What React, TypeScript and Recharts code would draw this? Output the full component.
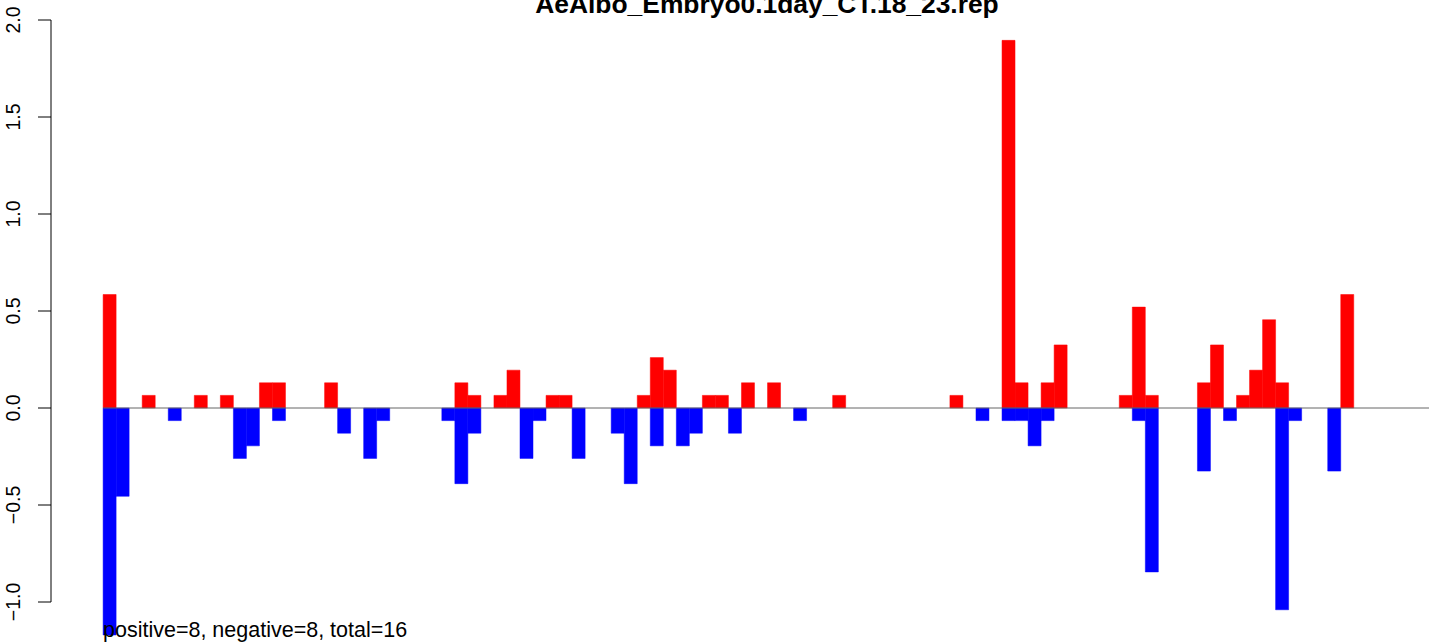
import React from 'react';
import { ComposedChart, Bar, XAxis, YAxis, ReferenceLine } from 'recharts';

const titleText = 'AeAlbo_Embryo0.1day_CT.18_23.rep';
const footerText = 'positive=8, negative=8, total=16';

const slotCount = 100;

const positiveSlots = [0, 3, 7, 9, 12, 13, 17, 27, 28, 30, 31, 34, 35, 41, 42, 43, 46, 47, 49, 51, 56, 65, 69, 70, 72, 73, 78, 79, 80, 84, 85, 87, 88, 89, 90, 95];
const positiveValues = [0.585, 0.065, 0.065, 0.065, 0.13, 0.13, 0.13, 0.13, 0.065, 0.065, 0.195, 0.065, 0.065, 0.065, 0.26, 0.195, 0.065, 0.065, 0.13, 0.13, 0.065, 0.065, 1.895, 0.13, 0.13, 0.325, 0.065, 0.52, 0.065, 0.13, 0.325, 0.065, 0.195, 0.455, 0.13, 0.585];

const negativeSlots = [0, 1, 5, 10, 11, 13, 18, 20, 21, 26, 27, 28, 32, 33, 36, 39, 40, 42, 44, 45, 48, 53, 67, 69, 70, 71, 72, 79, 80, 84, 86, 90, 91, 94];
const negativeValues = [-1.17, -0.455, -0.065, -0.26, -0.195, -0.065, -0.13, -0.26, -0.065, -0.065, -0.39, -0.13, -0.26, -0.065, -0.26, -0.13, -0.39, -0.195, -0.195, -0.13, -0.13, -0.065, -0.065, -0.065, -0.065, -0.195, -0.065, -0.065, -0.845, -0.325, -0.065, -1.04, -0.065, -0.325];

const yTicks = [-1, -0.5, 0, 0.5, 1, 1.5, 2];
const yTickLabels = ['\u22121.0', '\u22120.5', '0.0', '0.5', '1.0', '1.5', '2.0'];

const data = Array.from({ length: slotCount }, (_, i) => {
  const pi = positiveSlots.indexOf(i);
  const ni = negativeSlots.indexOf(i);
  return {
    pos: i + 0.5,
    up: pi >= 0 ? positiveValues[pi] : null,
    down: ni >= 0 ? negativeValues[ni] : null,
  };
});

const FONT = '"Liberation Sans", Arial, Helvetica, sans-serif';

const YTick = (props: any) => {
  const { x, y, payload } = props;
  const idx = yTicks.indexOf(payload.value);
  const bx = x - 16.5;
  return (
    <text
      x={bx}
      y={y}
      transform={`rotate(-90, ${bx}, ${y})`}
      textAnchor="middle"
      fontSize={19.5}
      fontFamily={FONT}
      fill="#000"
    >
      {idx >= 0 ? yTickLabels[idx] : ''}
    </text>
  );
};

export default function App() {
  return (
    <div style={{ position: 'absolute', left: 0, top: 0, width: 1429, height: 643, overflow: 'hidden', background: '#fff' }}>
      <ComposedChart
        width={1458}
        height={670}
        data={data}
        margin={{ top: 0.6, right: 0, bottom: 9.8, left: 0 }}
        barCategoryGap={0}
        barGap={0}
        stackOffset="sign"
      >
        <XAxis dataKey="pos" type="number" domain={[-4, 104]} hide allowDataOverflow />
        <YAxis
          type="number"
          domain={[-1.3, 2.1]}
          ticks={yTicks}
          width={51}
          tickSize={13}
          axisLine={false}
          tickLine={{ stroke: '#000', strokeWidth: 1 }}
          tick={<YTick />}
          interval={0}
          allowDataOverflow
        />
        <Bar dataKey="up" stackId="s" fill="#FF0000" stroke="#FF0000" strokeWidth={0.5} isAnimationActive={false} />
        <Bar dataKey="down" stackId="s" fill="#0000FF" stroke="#0000FF" strokeWidth={0.5} isAnimationActive={false} />
        <ReferenceLine segment={[{ x: 0, y: 0 }, { x: 104, y: 0 }]} stroke="#666" strokeWidth={1} ifOverflow="visible" />
        <ReferenceLine segment={[{ x: -4, y: -1 }, { x: -4, y: 2 }]} stroke="#000" strokeWidth={1} ifOverflow="visible" />
      </ComposedChart>
      <svg width={1429} height={643} style={{ position: 'absolute', left: 0, top: 0, pointerEvents: 'none' }}>
        <text x={767} y={13} textAnchor="middle" fontWeight="bold" fontSize={26.4} fontFamily={FONT} fill="#000">
          {titleText}
        </text>
        <text x={103} y={637} fontSize={21.5} fontFamily={FONT} fill="#000">
          {footerText}
        </text>
      </svg>
    </div>
  );
}
